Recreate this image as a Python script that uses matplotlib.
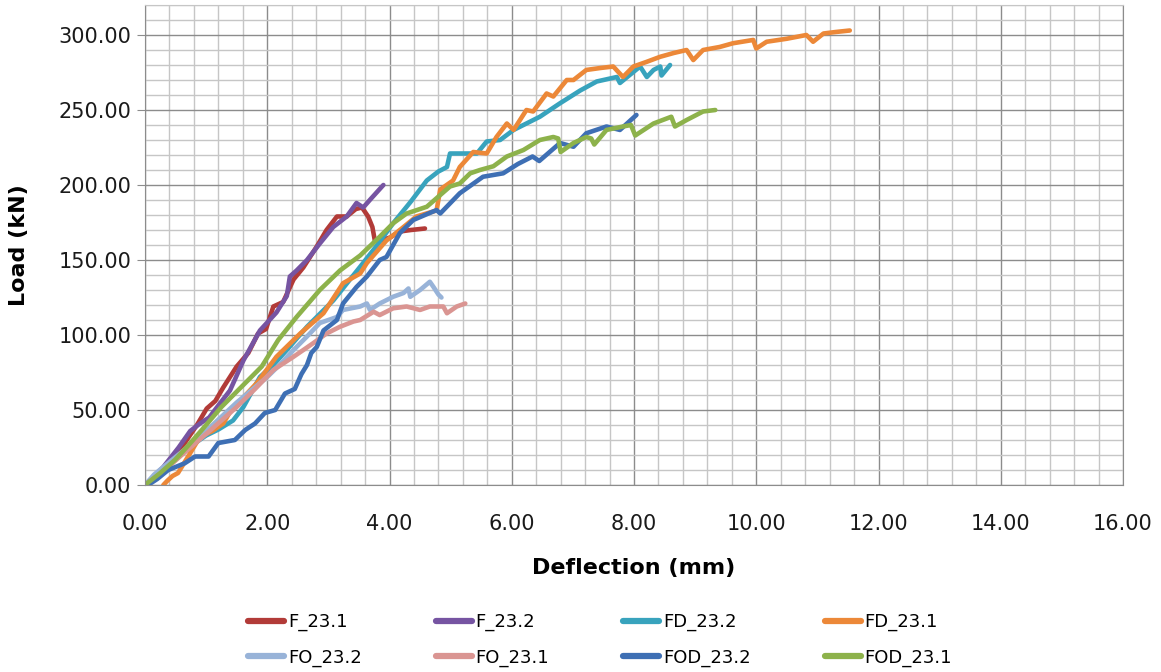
import matplotlib
matplotlib.use("Agg")
import matplotlib.pyplot as plt
from matplotlib.ticker import MultipleLocator, FormatStrFormatter

# ── data (deflection mm, load kN) ─────────────────────────────────────────────
F_23_1_x = [0.0, 0.3, 0.6, 0.85, 1.01, 1.15, 1.28, 1.5, 1.69, 1.85, 1.98, 2.1,
            2.26, 2.43, 2.59, 2.81, 2.97, 3.14, 3.3, 3.45, 3.55, 3.65, 3.72,
            3.76, 3.85, 4.01, 4.17, 4.35, 4.58]
F_23_1_y = [0, 11, 25, 40, 51, 56, 65, 79, 88, 101, 104, 119, 122, 137, 145,
            159, 170, 179, 179, 184, 185, 179, 172, 163, 163, 165, 169, 170, 171]

F_23_2_x = [0.0, 0.3, 0.55, 0.74, 0.9, 1.05, 1.2, 1.39, 1.61, 1.88, 2.15, 2.32,
            2.37, 2.48, 2.65, 2.86, 3.08, 3.3, 3.46, 3.57, 3.7, 3.9]
F_23_2_y = [0, 12, 25, 36, 41, 45, 53, 63, 83, 103, 115, 126, 139, 143, 150,
            161, 172, 179, 188, 185, 191, 200]

FD_23_2_x = [0.0, 0.25, 0.5, 0.75, 1.0, 1.2, 1.44, 1.61, 1.88, 2.1, 2.32, 2.65,
             3.08, 3.52, 3.8, 4.06, 4.35, 4.61, 4.8, 4.94, 4.99, 5.15, 5.43,
             5.59, 5.81, 6.03, 6.24, 6.46, 6.79, 7.12, 7.39, 7.72, 7.77, 7.95,
             8.1, 8.21, 8.32, 8.43, 8.45, 8.59]
FD_23_2_y = [0, 8, 17, 26, 33, 37, 43, 52, 72, 80, 90, 105.5, 123, 145.5, 160,
             174.5, 189, 203, 209, 212, 221, 221, 221, 229, 230, 236.7, 241,
             245.5, 254.5, 263, 269, 272, 268, 274, 279, 272, 276.7, 279, 273,
             280]

FD_23_1_x = [0.3, 0.37, 0.45, 0.54, 0.57, 0.75, 0.9, 1.1, 1.28, 1.44, 1.6, 1.83,
             2.15, 2.54, 2.92, 3.24, 3.52, 3.63, 3.95, 4.2, 4.44, 4.77, 4.83,
             5.04, 5.15, 5.37, 5.59, 5.75, 5.92, 6.03, 6.24, 6.35, 6.57, 6.68,
             6.9, 7.01, 7.22, 7.45, 7.66, 7.82, 7.99, 8.2, 8.43, 8.65, 8.86,
             8.97, 9.13, 9.4, 9.62, 9.95, 10.0, 10.17, 10.5, 10.82, 10.93, 11.1,
             11.3, 11.53]
FD_23_1_y = [0, 3, 6, 8, 10, 22, 32, 36, 41, 52, 58, 68, 85.5, 101, 114.5,
             134.5, 141, 148, 163, 171, 179, 183, 197, 203, 212, 222, 221, 232,
             241, 236.7, 250, 249, 261, 259, 270, 270, 276.7, 278, 279, 272,
             279, 282, 285.5, 288, 290, 283.3, 290, 292, 294.5, 296.7, 291,
             295.5, 297.5, 300, 295.5, 301, 302, 303]

FO_23_2_x = [0.0, 0.15, 0.3, 0.6, 1.0, 1.5, 2.0, 2.2, 2.43, 2.65, 2.86, 3.14,
             3.24, 3.52, 3.63, 3.68, 3.84, 4.06, 4.23, 4.31, 4.34, 4.5, 4.66,
             4.72, 4.8, 4.85]
FO_23_2_y = [0, 7, 12, 22, 36, 55, 72, 80, 90, 99, 108, 112, 116.7, 119, 121,
             116.7, 121, 125.5, 128, 131, 125.5, 130, 135.5, 132, 127, 125]

FO_23_1_x = [0.0, 0.3, 0.6, 1.0, 1.5, 1.8, 2.1, 2.43, 2.75, 2.97, 3.19, 3.41,
             3.52, 3.74, 3.84, 4.06, 4.28, 4.5, 4.66, 4.88, 4.94, 5.1, 5.24]
FO_23_1_y = [0, 9, 20, 34, 52, 64, 76.7, 85.5, 94.5, 101, 105.5, 109, 110,
             115.5, 113.3, 117.8, 119, 116.7, 119, 119, 114.5, 119, 121]

FOD_23_2_x = [0.05, 0.2, 0.38, 0.65, 0.82, 1.04, 1.2, 1.47, 1.64, 1.8, 1.96,
              2.13, 2.29, 2.45, 2.56, 2.65, 2.72, 2.81, 2.92, 3.14, 3.24, 3.46,
              3.63, 3.84, 3.95, 4.17, 4.39, 4.77, 4.83, 5.15, 5.53, 5.86, 6.1,
              6.34, 6.45, 6.79, 7.01, 7.22, 7.55, 7.77, 8.04]
FOD_23_2_y = [0, 4, 10, 14.5, 19, 19, 28, 30, 36.7, 41, 48, 50, 61, 64, 74,
              80, 88, 92, 103, 110, 121, 132, 139, 150, 152, 168, 176.7, 183.3,
              181, 194.5, 205.5, 207.8, 214, 219, 216, 228, 225.5, 234.5, 239,
              236.7, 246.7]

FOD_23_1_x = [0.0, 0.25, 0.49, 0.7, 0.93, 1.25, 1.58, 1.91, 2.18, 2.48, 2.86,
              3.19, 3.52, 3.84, 4.06, 4.28, 4.61, 4.99, 5.15, 5.32, 5.48, 5.7,
              5.92, 6.19, 6.46, 6.68, 6.76, 6.8, 7.01, 7.22, 7.3, 7.35, 7.55,
              7.82, 7.95, 8.02, 8.32, 8.61, 8.67, 8.86, 9.13, 9.33]
FOD_23_1_y = [0, 8, 16.7, 26, 36.7, 52, 65.5, 79, 96.7, 112, 130, 143, 153,
              165.5, 174.5, 181, 185.5, 199, 201, 207.8, 210, 212.5, 219, 223.3,
              230, 232, 231, 222, 228, 232, 231, 227, 236.7, 239, 240, 233, 241,
              245.5, 239, 243.3, 249, 250]

# drawing order = Excel series order (last one on top)
SERIES = [
    ("F_23.1",   F_23_1_x,   F_23_1_y,   "#B23B38"),
    ("F_23.2",   F_23_2_x,   F_23_2_y,   "#7654A2"),
    ("FD_23.2",  FD_23_2_x,  FD_23_2_y,  "#38A3BD"),
    ("FD_23.1",  FD_23_1_x,  FD_23_1_y,  "#EC8838"),
    ("FO_23.2",  FO_23_2_x,  FO_23_2_y,  "#98B3D8"),
    ("FO_23.1",  FO_23_1_x,  FO_23_1_y,  "#DA9592"),
    ("FOD_23.2", FOD_23_2_x, FOD_23_2_y, "#3E6FB4"),
    ("FOD_23.1", FOD_23_1_x, FOD_23_1_y, "#8DB24B"),
]

# legend is filled row-wise in Excel, matplotlib fills column-wise
LEGEND_ORDER = ["F_23.1", "FO_23.2", "F_23.2", "FO_23.1",
                "FD_23.2", "FOD_23.2", "FD_23.1", "FOD_23.1"]

MAJOR_GRID = "#8c8c8c"
MINOR_GRID = "#c6c6c6"


def main():
    fig = plt.figure(figsize=(11.61, 6.72), dpi=100)
    ax = fig.add_axes([145 / 1161, 1 - 485 / 672, 978 / 1161, 480 / 672])

    lines = {}
    for name, xs, ys, color in SERIES:
        (ln,) = ax.plot(xs, ys, color=color, lw=3.3, solid_joinstyle="round",
                        solid_capstyle="round", label=name)
        lines[name] = ln

    ax.set_xlim(0, 16)
    ax.set_ylim(0, 320)
    ax.xaxis.set_major_locator(MultipleLocator(2))
    ax.xaxis.set_minor_locator(MultipleLocator(0.4))
    ax.yaxis.set_major_locator(MultipleLocator(50))
    ax.yaxis.set_minor_locator(MultipleLocator(10))
    ax.xaxis.set_major_formatter(FormatStrFormatter("%.2f"))
    ax.yaxis.set_major_formatter(FormatStrFormatter("%.2f"))

    ax.grid(which="major", color=MAJOR_GRID, lw=1.0)
    ax.grid(which="minor", color=MINOR_GRID, lw=1.0)
    ax.set_axisbelow(True)

    for side in ["left", "bottom", "right"]:
        ax.spines[side].set_color(MAJOR_GRID)
    ax.spines["top"].set_color(MINOR_GRID)

    ax.tick_params(axis="x", which="both", length=0, pad=21,
                   labelsize=15, labelcolor="#1a1a1a")
    ax.tick_params(axis="y", which="major", length=6, color=MAJOR_GRID,
                   pad=4, labelsize=15, labelcolor="#1a1a1a")
    ax.tick_params(axis="y", which="minor", length=0)

    ax.set_xlabel("Deflection (mm)", fontsize=16, fontweight="bold", labelpad=17)
    ax.set_ylabel("Load (kN)", fontsize=16, fontweight="bold", labelpad=21)

    handles = [lines[n] for n in LEGEND_ORDER]
    leg = fig.legend(handles=handles, labels=LEGEND_ORDER, ncol=4,
                     loc="center", bbox_to_anchor=(600 / 1161, 1 - 640 / 672),
                     frameon=False, fontsize=13, handlelength=2.0,
                     handletextpad=0.2, columnspacing=4.1, labelspacing=0.95)
    for ln in leg.get_lines():
        ln.set_linewidth(4.5)

    fig.savefig("out.png", dpi=100)


if __name__ == "__main__":
    main()
